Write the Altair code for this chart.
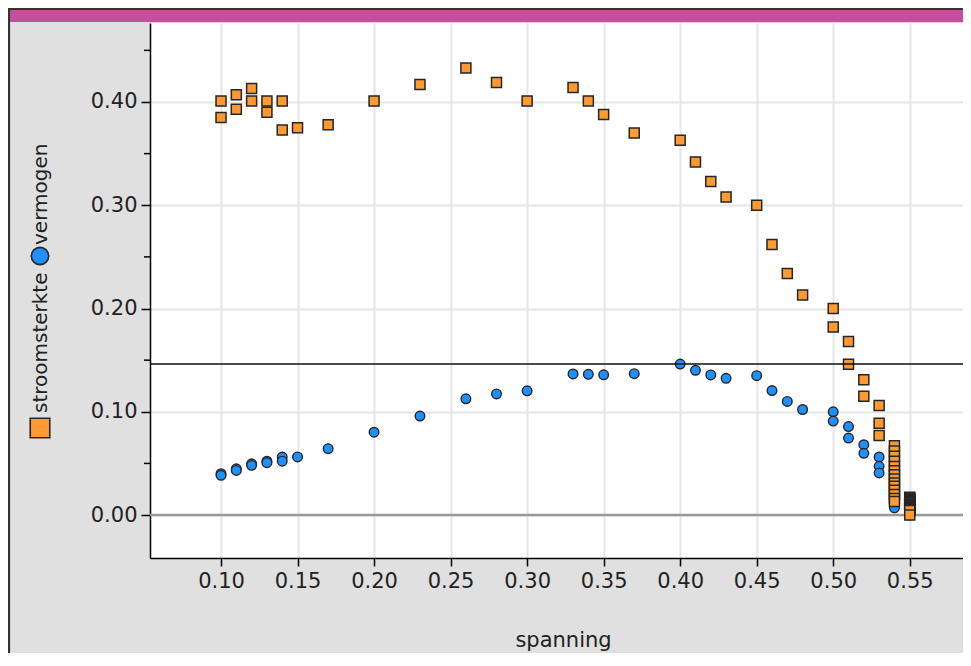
import altair as alt
import pandas as pd

# ---- data ----
spanning = [0.10, 0.10, 0.11, 0.11, 0.12, 0.12, 0.13, 0.13, 0.14, 0.14,
            0.15, 0.17, 0.20, 0.23, 0.26, 0.28, 0.30, 0.33, 0.34, 0.35,
            0.37, 0.40, 0.41, 0.42, 0.43, 0.45, 0.46, 0.47, 0.48, 0.50,
            0.50, 0.51, 0.51, 0.52, 0.52, 0.53, 0.53, 0.53,
            0.54, 0.54, 0.54, 0.54, 0.54, 0.54, 0.54, 0.54, 0.54, 0.54,
            0.54, 0.54, 0.54, 0.54,
            0.55, 0.55, 0.55, 0.55, 0.55, 0.55, 0.55, 0.55, 0.55, 0.55,
            0.55, 0.55, 0.55, 0.55, 0.55, 0.55, 0.55, 0.55]
stroomsterkte = [0.401, 0.385, 0.407, 0.393, 0.413, 0.401, 0.401, 0.390, 0.401, 0.373,
                 0.375, 0.378, 0.401, 0.417, 0.433, 0.419, 0.401, 0.414, 0.401, 0.388,
                 0.370, 0.363, 0.342, 0.323, 0.308, 0.300, 0.262, 0.234, 0.213, 0.200,
                 0.182, 0.168, 0.146, 0.131, 0.115, 0.106, 0.089, 0.077,
                 0.067, 0.062, 0.057, 0.052, 0.047, 0.043, 0.039, 0.035, 0.031, 0.028,
                 0.024, 0.020, 0.016, 0.013,
                 0.0172, 0.0164, 0.0156, 0.0148, 0.0140, 0.0132, 0.0124, 0.0116, 0.0108,
                 0.0100, 0.0092, 0.0084, 0.0076, 0.0068, 0.0060, 0.0052, 0.0044, 0.000]
vermogen = [0.0401, 0.0385, 0.0448, 0.0432, 0.0496, 0.0481, 0.0521, 0.0507, 0.0561, 0.0522,
            0.0563, 0.0643, 0.0802, 0.0959, 0.1126, 0.1173, 0.1203, 0.1366, 0.1363, 0.1358,
            0.1369, 0.1462, 0.1402, 0.1357, 0.1324, 0.1350, 0.1205, 0.1100, 0.1022, 0.1000,
            0.0910, 0.0857, 0.0745, 0.0681, 0.0598, 0.0562, 0.0472, 0.0408,
            0.0362, 0.0335, 0.0308, 0.0281, 0.0254, 0.0232, 0.0211, 0.0189, 0.0167, 0.0151,
            0.0130, 0.0108, 0.0086, 0.0070,
            0.0095, 0.0090, 0.0086, 0.0081, 0.0077, 0.0073, 0.0068, 0.0064, 0.0059,
            0.0055, 0.0051, 0.0046, 0.0042, 0.0037, 0.0033, 0.0029, 0.0024, 0.0000]

x_ticks = [0.10, 0.15, 0.20, 0.25, 0.30, 0.35, 0.40, 0.45, 0.50, 0.55]
y_ticks = [0.00, 0.10, 0.20, 0.30, 0.40]
y_minor = [0.05, 0.15, 0.25, 0.35, 0.45]
x_domain = [0.0536, 0.5848]
y_domain = [-0.0416, 0.4765]

df = pd.DataFrame({"spanning": spanning, "stroomsterkte": stroomsterkte,
                   "vermogen": vermogen})

W, H = 813, 535
FONT = "DejaVu Sans"
ORANGE = "#FF9A33"
BLUE = "#1E90FF"
EDGE = "#262626"

xscale = alt.Scale(domain=x_domain, nice=False, zero=False)
yscale = alt.Scale(domain=y_domain, nice=False, zero=False)
xaxis = alt.Axis(values=x_ticks, format=".2f", title="spanning", grid=True,
                 gridColor="#E6E6E6", gridWidth=2, domainColor="black", domainWidth=1.5,
                 tickColor="black", tickSize=8, tickWidth=1.5, labelFontSize=21,
                 labelFont=FONT, labelColor="#222", labelPadding=4,
                 titleFont=FONT, titleFontSize=21, titleFontWeight="normal",
                 titleColor="#222", titlePadding=38, titleX=413)
yaxis = alt.Axis(values=y_ticks, format=".2f", title=None, grid=True,
                 gridColor="#E6E6E6", gridWidth=2, domainColor="black", domainWidth=1.5,
                 tickColor="black", tickSize=9, tickWidth=1.5, labelFontSize=21,
                 labelFont=FONT, labelColor="#222", labelPadding=4)


def X(f):
    return alt.X(f, scale=xscale, axis=xaxis)


def Y(f):
    return alt.Y(f, scale=yscale, axis=yaxis)


base = alt.Chart(df)

zero_line = alt.Chart(pd.DataFrame({"v": [0.0]})).mark_rule(
    color="#9A9A9A", strokeWidth=2.5).encode(y=Y("v:Q"))

minor = alt.Chart(pd.DataFrame({"v": y_minor})).mark_rule(
    color="black", strokeWidth=1.5).encode(
    y=Y("v:Q"), x=alt.value(-6), x2=alt.value(0))

circles = base.mark_point(shape="circle", filled=True, fill=BLUE, stroke=EDGE,
                          strokeWidth=1.4, size=92, opacity=1).encode(
    x=X("spanning:Q"), y=Y("vermogen:Q"))

squares = base.mark_point(shape="square", filled=True, fill=ORANGE, stroke=EDGE,
                          strokeWidth=1.5, size=100, opacity=1).encode(
    x=X("spanning:Q"), y=Y("stroomsterkte:Q"))

max_line = alt.Chart(pd.DataFrame({"v": [max(vermogen)]})).mark_rule(
    color="#111", strokeWidth=1.5).encode(y=Y("v:Q"))

# ---- frame decorations (outside plot area) ----
deco = alt.Chart(pd.DataFrame({"a": [0]}))
left_border = deco.mark_rule(color="#333", strokeWidth=2.2).encode(
    x=alt.value(-141), y=alt.value(-15), y2=alt.value(H + 120))
top_border = deco.mark_rule(color="#333", strokeWidth=2.2).encode(
    y=alt.value(-14), x=alt.value(-142), x2=alt.value(W + 10))
pink_bar = deco.mark_rect(color="#C4509B").encode(
    x=alt.value(-140), x2=alt.value(W + 10), y=alt.value(-13), y2=alt.value(-1))
pink_edge = deco.mark_rule(color="#F4C9E4", strokeWidth=1).encode(
    y=alt.value(-0.5), x=alt.value(-2), x2=alt.value(W + 10))

# ---- rotated legend on the left ----
leg_sq = deco.mark_point(shape="square", filled=True, fill=ORANGE, stroke=EDGE,
                         strokeWidth=1.6, size=380, opacity=1).encode(
    x=alt.value(-110), y=alt.value(405))
leg_txt1 = deco.mark_text(text="stroomsterkte", angle=270, align="left",
                          baseline="middle", font=FONT, fontSize=20,
                          color="#222").encode(x=alt.value(-109), y=alt.value(390))
leg_ci = deco.mark_point(shape="circle", filled=True, fill=BLUE, stroke=EDGE,
                         strokeWidth=1.6, size=300, opacity=1).encode(
    x=alt.value(-110), y=alt.value(233))
leg_txt2 = deco.mark_text(text="vermogen", angle=270, align="left",
                          baseline="middle", font=FONT, fontSize=20,
                          color="#222").encode(x=alt.value(-109), y=alt.value(222))

chart = alt.layer(
    zero_line, minor, circles, squares, max_line,
    pink_bar, pink_edge, left_border, top_border,
    leg_sq, leg_txt1, leg_ci, leg_txt2,
).properties(
    width=W, height=H,
    autosize=alt.AutoSizeParams(type="none"),
    padding={"left": 142, "top": 15, "right": 0, "bottom": 95},
    background="#E0E0E0",
).configure_view(fill="white", stroke=None)

chart.save("out.html", embed_options={"renderer": "svg", "actions": False})
